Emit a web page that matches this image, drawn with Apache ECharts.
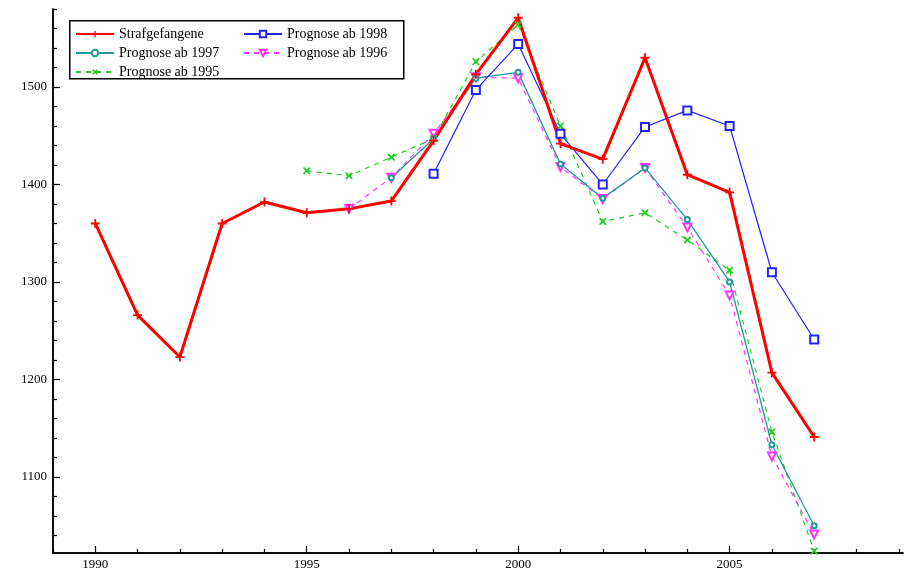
<!DOCTYPE html>
<html>
<head>
<meta charset="utf-8">
<script src="https://cdn.jsdelivr.net/npm/echarts@6/dist/echarts.min.js"></script>
<style>html,body{margin:0;padding:0;background:#fff}#c{width:905px;height:574px}</style>
</head>
<body>
<div id="c"></div>
<script>
const years = [1990,1991,1992,1993,1994,1995,1996,1997,1998,1999,2000,2001,2002,2003,2004,2005,2006,2007];
const strafgefangene = [1360,1266,1223,1360,1382,1371,1375,1383,1445,1513,1571,1442,1426,1530,1410,1392,1207,1141];
const prog1998Years = [1998,1999,2000,2001,2002,2003,2004,2005,2006,2007];
const prog1998 = [1411,1497,1544,1452,1400,1459,1476,1460,1310,1241];
const prog1997Years = [1997,1998,1999,2000,2001,2002,2003,2004,2005,2006,2007];
const prog1997 = [1407,1447,1509,1515,1421,1386,1417,1364,1300,1133,1050];
const prog1996Years = [1996,1997,1998,1999,2000,2001,2002,2003,2004,2005,2006,2007];
const prog1996 = [1375,1407,1452,1510,1509,1418,1385,1417,1356,1286,1121,1041];
const prog1995Years = [1995,1996,1997,1998,1999,2000,2001,2002,2003,2004,2005,2006,2007];
const prog1995 = [1414,1409,1428,1447,1526,1564,1460,1362,1371,1343,1312,1146,1024];
const xMajorTicks = [1990,1995,2000,2005];
const xMinorTicks = [1989,1991,1992,1993,1994,1996,1997,1998,1999,2001,2002,2003,2004,2006,2007,2008,2009];
const yMajorTicks = [1100,1200,1300,1400,1500];
const yMinorTicks = [1040,1060,1080,1120,1140,1160,1180,1220,1240,1260,1280,1320,1340,1360,1380,1420,1440,1460,1480,1520,1540,1560,1580];

const pairs = (xs, ys) => xs.map((x, i) => [x, ys[i]]);
const font = 'Liberation Serif';
const plus = 'path://M4,0H6V4H10V6H6V10H4V6H0V4H4Z';

const chart = echarts.init(document.getElementById('c'));
const axisCommon = {
  axisLine: {show: true, lineStyle: {color: '#000', width: 1.5}},
  splitLine: {show: false},
};
const plain = v => String(v);
chart.setOption({
  animation: false,
  backgroundColor: '#fff',
  textStyle: {fontFamily: font},
  grid: [
    {left: 53, top: 9, right: 2, bottom: 21, containLabel: false}
  ],
  graphic: [{
    type: 'rect', left: 69, top: 20, z: 3,
    shape: {width: 334, height: 58},
    style: {fill: '#fff', stroke: '#000', lineWidth: 1.5}
  }],
  legend: [
    {orient: 'vertical', left: 75, top: 27, itemWidth: 38, itemHeight: 8, itemGap: 5, padding: 0, z: 5,
     textStyle: {fontFamily: font, fontSize: 14, color: '#000'},
     data: ['Strafgefangene', 'Prognose ab 1997', 'Prognose ab 1995']},
    {orient: 'vertical', left: 243, top: 27, itemWidth: 38, itemHeight: 8, itemGap: 5, padding: 0, z: 5,
     textStyle: {fontFamily: font, fontSize: 14, color: '#000'},
     data: ['Prognose ab 1998', 'Prognose ab 1996']}
  ],
  xAxis: [
    Object.assign({type: 'value', min: 1989, max: 2009.1, gridIndex: 0,
      axisTick: {show: true, inside: true, length: 7, lineStyle: {color: '#000', width: 1.2}, customValues: xMajorTicks},
      axisLabel: {show: true, color: '#000', fontFamily: font, fontSize: 13, margin: 5, customValues: xMajorTicks, formatter: plain}
    }, axisCommon),
    Object.assign({type: 'value', min: 1989, max: 2009.1, gridIndex: 0, position: 'bottom',
      axisTick: {show: true, inside: true, length: 4, lineStyle: {color: '#000', width: 1.2}, customValues: xMinorTicks},
      axisLabel: {show: false}
    }, axisCommon)
  ],
  yAxis: [
    Object.assign({type: 'value', min: 1022, max: 1580, gridIndex: 0,
      axisTick: {show: true, inside: true, length: 7, lineStyle: {color: '#000', width: 1.2}, customValues: yMajorTicks},
      axisLabel: {show: true, color: '#000', fontFamily: font, fontSize: 13, margin: 6, customValues: yMajorTicks, formatter: plain}
    }, axisCommon),
    Object.assign({type: 'value', min: 1022, max: 1580, gridIndex: 0, position: 'left',
      axisTick: {show: true, inside: true, length: 4, lineStyle: {color: '#000', width: 1.2}, customValues: yMinorTicks},
      axisLabel: {show: false}
    }, axisCommon)
  ],
  series: [
    {name: 'Prognose ab 1995', type: 'line', data: pairs(prog1995Years, prog1995),
     symbol: plus, symbolRotate: 45, symbolSize: 9, showAllSymbol: true,
     lineStyle: {color: '#22cc22', width: 1.2, type: [5, 5]},
     itemStyle: {color: '#22cc22'}},
    {name: 'Prognose ab 1996', type: 'line', data: pairs(prog1996Years, prog1996),
     symbol: 'emptyTriangle', symbolRotate: 180, symbolSize: 8,
     lineStyle: {color: '#ff33ff', width: 1.2, type: [5, 5]},
     itemStyle: {color: '#ff33ff', borderWidth: 1.5}},
    {name: 'Prognose ab 1997', type: 'line', data: pairs(prog1997Years, prog1997),
     symbol: 'emptyCircle', symbolSize: 5,
     lineStyle: {color: '#229999', width: 1.3},
     itemStyle: {color: '#229999', borderWidth: 1.5}},
    {name: 'Prognose ab 1998', type: 'line', data: pairs(prog1998Years, prog1998),
     symbol: 'emptyRect', symbolSize: 8,
     lineStyle: {color: '#2222ff', width: 1.2},
     itemStyle: {color: '#2222ff', borderWidth: 1.5}},
    {name: 'Strafgefangene', type: 'line', data: pairs(years, strafgefangene),
     symbol: plus, symbolSize: 9,
     lineStyle: {color: '#ff0000', width: 3},
     itemStyle: {color: '#ff0000'}}
  ]
});
</script>
</body>
</html>
